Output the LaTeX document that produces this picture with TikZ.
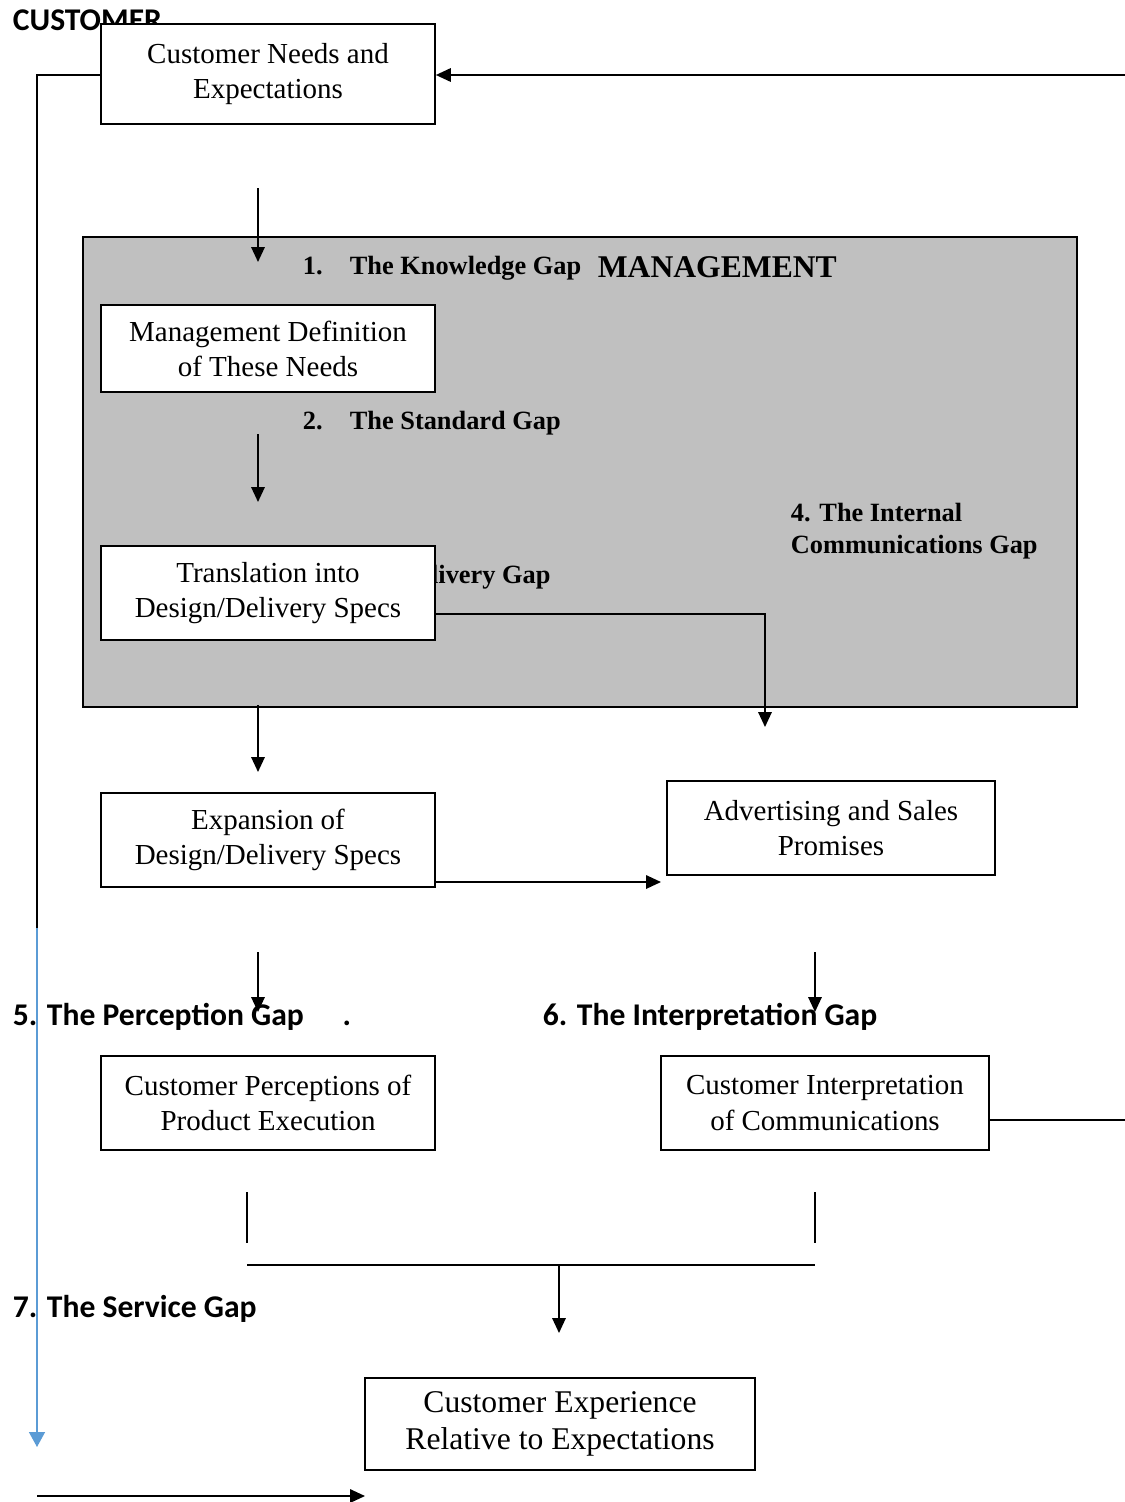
\documentclass[tikz,border=0pt]{standalone}
\usepackage{fontspec}
\setmainfont{Liberation Serif}
\newfontfamily\headfont{Carlito}
\usepackage{tikz}
\usetikzlibrary{arrows.meta}
\definecolor{mgray}{RGB}{192,192,192}
\definecolor{lblue}{RGB}{91,155,213}

\begin{document}
\begin{tikzpicture}
            [x=0.02cm,y=-0.02cm,line width=1pt,
             box/.style={draw,fill=white,align=center,inner sep=0pt,minimum width=6.68cm,minimum height=1.88cm,font=\fontsize{16.5}{20}\selectfont},
             gap/.style={anchor=west,inner sep=0pt,font=\headfont\bfseries\fontsize{18}{22}\selectfont},
             mgap/.style={anchor=west,inner sep=0pt,align=left,font=\bfseries\fontsize{15}{18.5}\selectfont},
             arr/.style={-{Triangle[length=0.3cm,width=0.27cm]}}]
            \useasboundingbox (0,0) rectangle (1125,1502);
            
            % management area
            \node[draw,fill=mgray,minimum width=19.88cm,minimum height=9.4cm,inner sep=0pt] (mgmt) at (580,472) {};
            \node[mgap] (k1) at (302,268) {\makebox[0.94cm][l]{1.}The Knowledge Gap};
            \node[anchor=west,inner sep=0pt,font=\bfseries\fontsize{18}{22}\selectfont] (mtitle) at (597,267) {MANAGEMENT};
            \node[mgap] (k2) at (302,423) {\makebox[0.94cm][l]{2.}The Standard Gap};
            \node[mgap] (k3) at (302,577) {\makebox[0.94cm][l]{3.}The Delivery Gap};
            \node[mgap] (k4) at (790,531) {4. The Internal\\Communications Gap};
            
            % labels outside
            \node[gap] (cust) at (12,20) {CUSTOMER};
            \node[gap] (k5) at (12,1017) {5. The Perception Gap \quad.};
            \node[gap] (k6) at (542,1017) {6. The Interpretation Gap};
            \node[gap] (k7) at (12,1309) {7. The Service Gap};
            
            % boxes
            \node[box,minimum height=2cm] (needs) at (268,74) {Customer Needs and\\Expectations};
            \node[box,minimum height=1.74cm] (define) at (268,348.5) {Management Definition\\of These Needs};
            \node[box] (trans) at (268,593) {Translation into\\Design/Delivery Specs};
            \node[box] (expand) at (268,840) {Expansion of\\Design/Delivery Specs};
            \node[box,minimum width=6.56cm] (adv) at (831,828) {Advertising and Sales\\Promises};
            \node[box] (percep) at (268,1103) {Customer Perceptions of\\Product Execution};
            \node[box,minimum width=6.56cm] (interp) at (825,1103) {Customer Interpretation\\of Communications};
            \node[box,minimum width=7.8cm,minimum height=1.84cm,font=\fontsize{18}{21}\selectfont] (exper) at (560,1424) {Customer Experience\\Relative to Expectations};
            
            % free ends
            \coordinate (R1) at (1125,75);
            \coordinate (L1) at (37,928);
            \coordinate (L2) at (37,1447);
            \coordinate (L3) at (37,1496);
            \coordinate (L4) at (365,1496);
            \coordinate (a1) at (258,188);
            \coordinate (a2) at (258,262);
            \coordinate (b1) at (258,434);
            \coordinate (b2) at (258,502);
            \coordinate (c1) at (258,705);
            \coordinate (c2) at (258,772);
            \coordinate (d1) at (765,727);
            \coordinate (e1) at (661,882);
            \coordinate (f1) at (258,952);
            \coordinate (f2) at (258,1012);
            \coordinate (g1) at (815,952);
            \coordinate (g2) at (815,1012);
            \coordinate (R2) at (1125,1120);
            \coordinate (h1) at (247,1192);
            \coordinate (h2) at (247,1243);
            \coordinate (i1) at (815,1192);
            \coordinate (i2) at (815,1243);
            \coordinate (j1) at (247,1265);
            \coordinate (j2) at (815,1265);
            \coordinate (m1) at (559,1265);
            \coordinate (m2) at (559,1333);
            
            % arrows
            \draw[arr] (R1) -- (needs.east |- R1);
            \draw (needs.west |- R1) -| (L1);
            \draw[-{Triangle[length=0.3cm,width=0.32cm]},lblue,line width=0.8pt] (L1) -- (L2);
            \draw[arr] (L3) -- (L4);
            \draw[arr] (a1) -- (a2);
            \draw[arr] (b1) -- (b2);
            \draw[arr] (c1) -- (c2);
            \draw[arr] (trans.east |- 0,614) -| (d1);
            \draw[arr] (expand.east |- e1) -- (e1);
            \draw[arr] (f1) -- (f2);
            \draw[arr] (g1) -- (g2);
            \draw (interp.east |- R2) -- (R2);
            
            % joining lines
            \draw (h1) -- (h2);
            \draw (i1) -- (i2);
            \draw (j1) -- (j2);
            \draw[arr] (m1) -- (m2);
        \end{tikzpicture}
\end{document}
